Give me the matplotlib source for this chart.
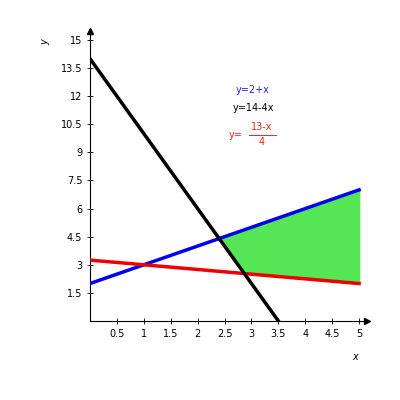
import numpy as np
import matplotlib
matplotlib.use("Agg")
import matplotlib.pyplot as plt

xticks = [0.5, 1, 1.5, 2, 2.5, 3, 3.5, 4, 4.5, 5]
yticks = [1.5, 3, 4.5, 6, 7.5, 9, 10.5, 12, 13.5, 15]
ytick_labels = ["1.5", "3", "4.5", "6", "7.5", "9", "10.5", "12", "13.5", "15"]

fig = plt.figure(figsize=(4, 4), dpi=100)
ax = fig.add_axes([0.225, 0.1975, 0.693, 0.726])
ax.set_xlim(0, 5.15)
ax.set_ylim(0, 15.5)
for s in ["top", "right"]:
    ax.spines[s].set_visible(False)
ax.spines["left"].set_linewidth(0.8)
ax.spines["bottom"].set_linewidth(0.8)
ax.plot(0, 15.5, "^k", ms=4, clip_on=False, transform=ax.transData)
ax.plot(5.15, 0, ">k", ms=4, clip_on=False)

x = np.linspace(0, 5, 200)
blue = 2 + x
red = (13 - x) / 4
xb = np.linspace(0, 3.5, 200)
black = 14 - 4 * xb

xf = np.linspace(2.4, 5, 200)
ax.fill_between(xf, 2 + xf, np.maximum((13 - xf) / 4, 14 - 4 * xf), color="#55e655", zorder=1)
ax.plot(x, blue, color="#0000ee", lw=2.5, zorder=3)
ax.plot(x, red, color="#ee0000", lw=2.5, zorder=3)
ax.plot(xb, black, color="black", lw=2.5, zorder=4)

ax.set_xticks(xticks)
ax.set_xticklabels([f"{t:g}" for t in xticks])
ax.set_yticks(yticks)
ax.set_yticklabels(ytick_labels)
ax.tick_params(labelsize=7, length=4, direction="inout", width=0.6)

fig.text(355 / 400, 1 - 357 / 400, "x", fontsize=7, style="italic", ha="center", va="center")
fig.text(45 / 400, 1 - 42 / 400, "y", fontsize=7, style="italic", ha="center", va="center", rotation=90)

fig.text(253 / 400, 1 - 90 / 400, "y=2+x", fontsize=7, color="#2222cc", ha="center", va="center")
fig.text(253 / 400, 1 - 108 / 400, "y=14-4x", fontsize=7, color="black", ha="center", va="center")
fig.text(236 / 400, 1 - 135 / 400, "y=", fontsize=7, color="#ee2222", ha="center", va="center")
fig.text(262 / 400, 1 - 127 / 400, "13-x", fontsize=7, color="#ee2222", ha="center", va="center")
fig.text(262 / 400, 1 - 142 / 400, "4", fontsize=7, color="#ee2222", ha="center", va="center")
fig.add_artist(plt.Line2D([249 / 400, 276 / 400], [1 - 134.5 / 400] * 2, color="#ee2222", lw=0.7))

fig.savefig("out.png", dpi=100)
